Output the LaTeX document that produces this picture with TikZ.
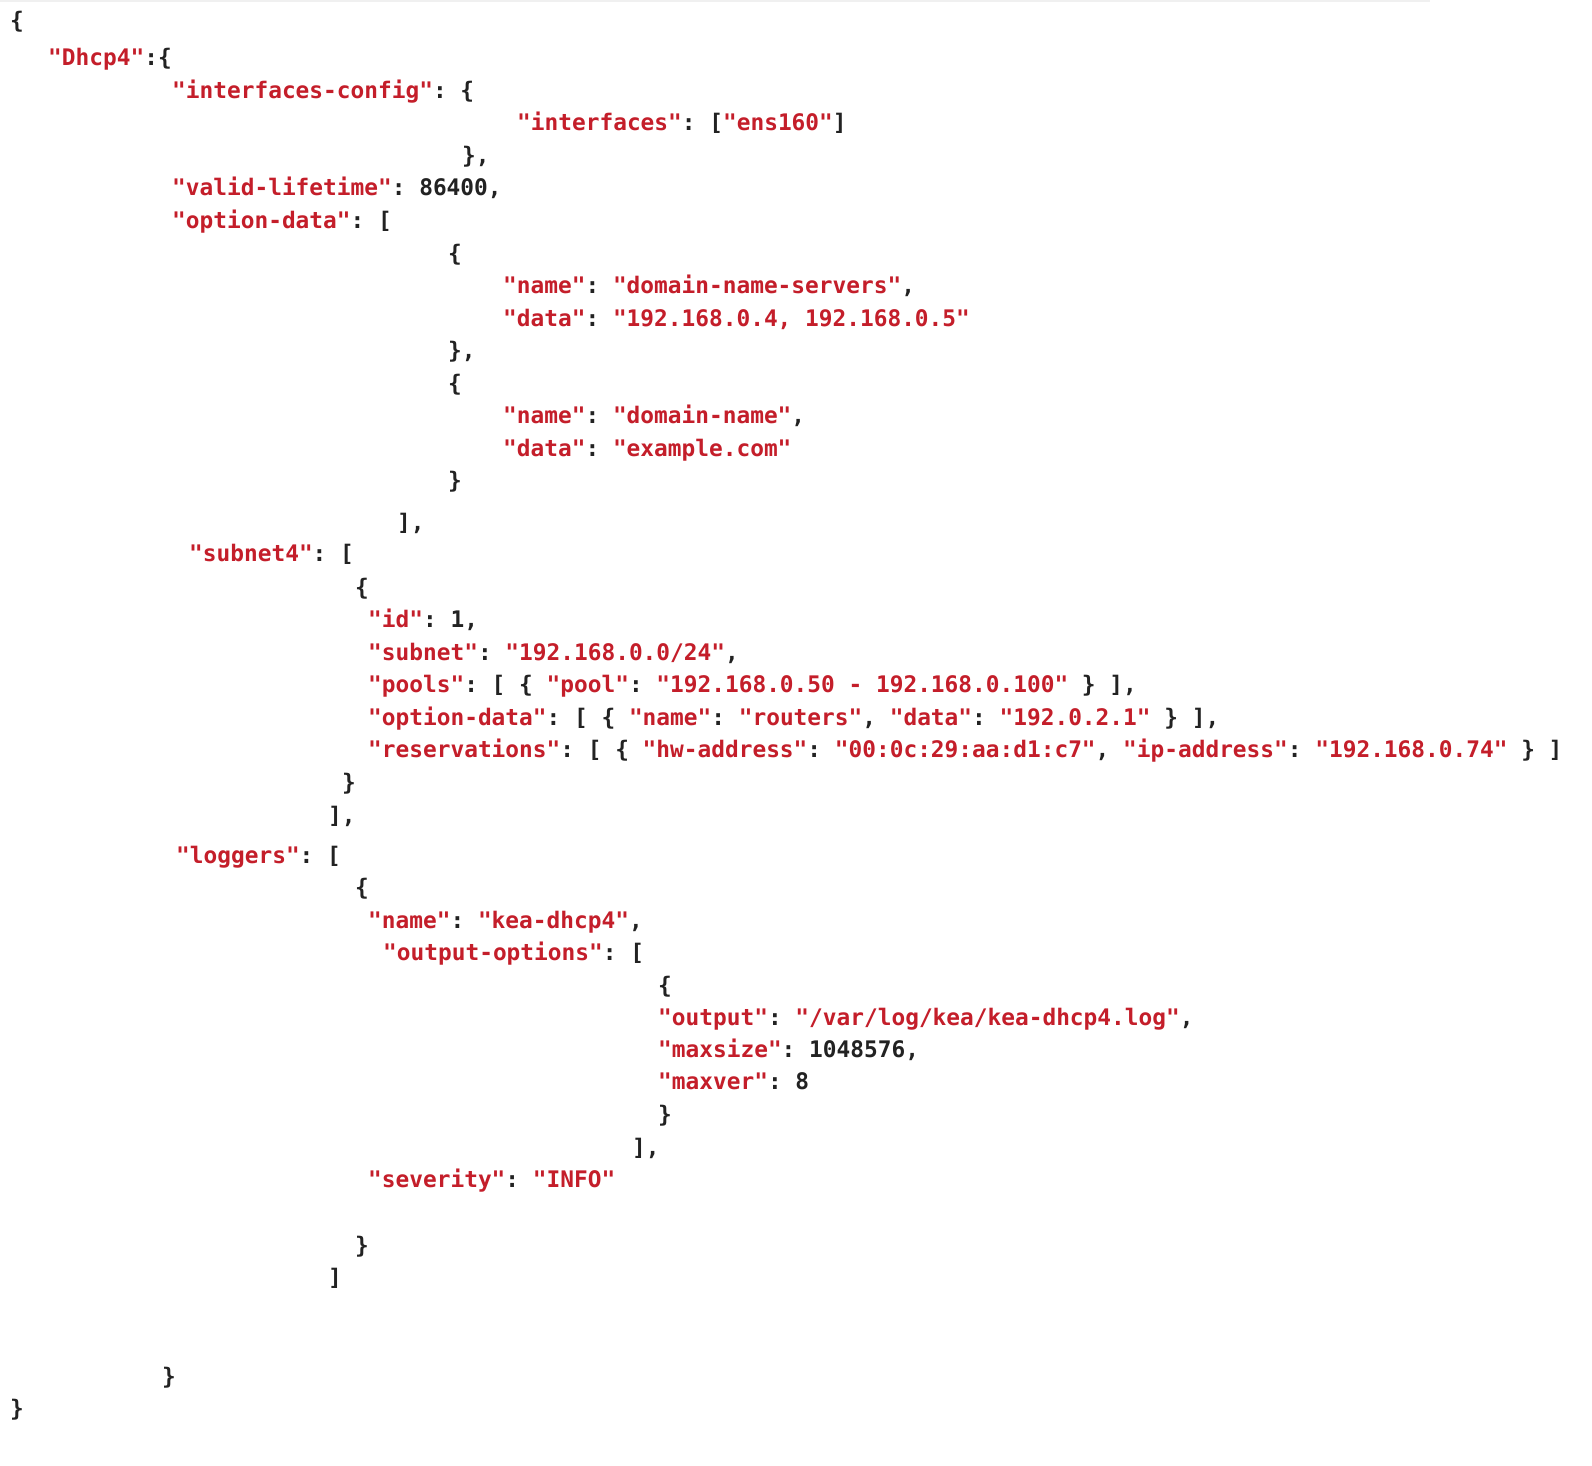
\documentclass[tikz,border=0pt]{standalone}
\usepackage{fontspec}
\setmonofont{DejaVu Sans Mono}
\definecolor{jred}{HTML}{C41E2A}
\definecolor{jblk}{HTML}{222222}
\newcommand\rs[1]{\textcolor{jred}{#1}}
\tikzset{codeln/.style={anchor=base west,inner sep=0pt,text=jblk,font=\ttfamily\bfseries\fontsize{22.8}{26}\selectfont}}
\begin{document}
\begin{tikzpicture}[x=1pt,y=-1pt]
\useasboundingbox (0,0) rectangle (1592,1465);
\clip (0,0) rectangle (1592,1465);
\fill[white] (0,0) rectangle (1592,1465);
\draw[black!6,line width=1.5pt] (0,1) -- (1430,1);
\def\L#1#2#3#4{\node[codeln] (#1) at (#2,#3+8) {#4};}
\L{l1}{10}{20}{\{}
\L{l2}{48}{57}{\rs{"Dhcp4"}:\{}
\L{l3}{172}{90}{\rs{"interfaces-config"}: \{}
\L{l4}{517}{122}{\rs{"interfaces"}: [\rs{"ens160"}]}
\L{l5}{462}{155}{\},}
\L{l6}{172}{187}{\rs{"valid-lifetime"}: 86400,}
\L{l7}{172}{220}{\rs{"option-data"}: [}
\L{l8}{448}{253}{\{}
\L{l9}{503}{285}{\rs{"name"}: \rs{"domain-name-servers"},}
\L{l10}{503}{318}{\rs{"data"}: \rs{"192.168.0.4, 192.168.0.5"}}
\L{l11}{448}{350}{\},}
\L{l12}{448}{383}{\{}
\L{l13}{503}{415}{\rs{"name"}: \rs{"domain-name"},}
\L{l14}{503}{448}{\rs{"data"}: \rs{"example.com"}}
\L{l15}{448}{480}{\}}
\L{l16}{397}{522}{],}
\L{l17}{189}{553}{\rs{"subnet4"}: [}
\L{l18}{355}{587}{\{}
\L{l19}{368}{619}{\rs{"id"}: 1,}
\L{l20}{368}{652}{\rs{"subnet"}: \rs{"192.168.0.0/24"},}
\L{l21}{368}{684}{\rs{"pools"}: [ \{ \rs{"pool"}: \rs{"192.168.0.50 - 192.168.0.100"} \} ],}
\L{l22}{368}{717}{\rs{"option-data"}: [ \{ \rs{"name"}: \rs{"routers"}, \rs{"data"}: \rs{"192.0.2.1"} \} ],}
\L{l23}{368}{749}{\rs{"reservations"}: [ \{ \rs{"hw-address"}: \rs{"00:0c:29:aa:d1:c7"}, \rs{"ip-address"}: \rs{"192.168.0.74"} \} ]}
\L{l24}{342}{782}{\}}
\L{l25}{328}{815}{],}
\L{l26}{176}{855}{\rs{"loggers"}: [}
\L{l27}{355}{887}{\{}
\L{l28}{368}{920}{\rs{"name"}: \rs{"kea-dhcp4"},}
\L{l29}{383}{952}{\rs{"output-options"}: [}
\L{l30}{658}{985}{\{}
\L{l31}{658}{1017}{\rs{"output"}: \rs{"/var/log/kea/kea-dhcp4.log"},}
\L{l32}{658}{1049}{\rs{"maxsize"}: 1048576,}
\L{l33}{658}{1081}{\rs{"maxver"}: 8}
\L{l34}{658}{1114}{\}}
\L{l35}{632}{1147}{],}
\L{l36}{368}{1179}{\rs{"severity"}: \rs{"INFO"}}
\L{l37}{355}{1245}{\}}
\L{l38}{328}{1277}{]}
\L{l39}{162}{1376}{\}}
\L{l40}{10}{1408}{\}}
\end{tikzpicture}
\end{document}
